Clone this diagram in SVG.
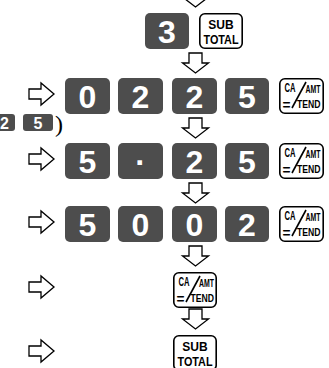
<svg xmlns="http://www.w3.org/2000/svg" xmlns:xlink="http://www.w3.org/1999/xlink" width="329" height="368" viewBox="0 0 329 368">
<style>
.dk{fill:#4d4d4d;}
.dg{fill:#fff;font-family:"Liberation Sans",Arial,sans-serif;font-weight:bold;font-size:32px;text-anchor:middle;}
.sdg{fill:#fff;font-family:"Liberation Sans",Arial,sans-serif;font-weight:bold;font-size:16px;text-anchor:middle;}
.wk{fill:#fff;stroke:#000;stroke-width:1.6;}
.kt{fill:#000;font-family:"Liberation Sans",Arial,sans-serif;font-weight:bold;}
.ar{fill:#fff;stroke:#000;stroke-width:1.3;stroke-linejoin:miter;}
.sl{stroke:#000;stroke-width:1.6;}
</style>
<defs>
<path id="da" d="M -6.5 0 H 6.5 V 10 H 13 L 0 20 L -13 10 H -6.5 Z"/>
<path id="ra" d="M 0 -5 H 12 V -11 L 25 0 L 12 11 V 5 H 0 Z"/>
</defs>

<g id="connectors">
<use xlink:href="#da" class="ar" x="195.5" y="-13"/>
<use xlink:href="#da" class="ar" x="195.5" y="53"/>
<use xlink:href="#da" class="ar" x="195.5" y="118"/>
<use xlink:href="#da" class="ar" x="195.5" y="183"/>
<use xlink:href="#da" class="ar" x="195.5" y="246"/>
<use xlink:href="#da" class="ar" x="195.5" y="309"/>
<use xlink:href="#ra" class="ar" x="29" y="94"/>
<use xlink:href="#ra" class="ar" x="29" y="159"/>
<use xlink:href="#ra" class="ar" x="29" y="222"/>
<use xlink:href="#ra" class="ar" x="29" y="287"/>
<use xlink:href="#ra" class="ar" x="29" y="351"/>
</g>

<!-- Row 1 -->
<g id="k1-3"><rect class="dk" x="145" y="13" width="44" height="36" rx="5"/><text class="dg" x="167" y="42.5">3</text></g>
<g id="k1-sub"><rect class="wk" x="199.8" y="13.8" width="42.4" height="34.4" rx="5"/>
<text class="kt" x="221" y="29" font-size="12" text-anchor="middle">SUB</text>
<text class="kt" x="221" y="44" font-size="12" text-anchor="middle" textLength="35" lengthAdjust="spacingAndGlyphs">TOTAL</text></g>

<!-- Small keys -->
<g id="sk-2"><rect class="dk" x="-15" y="114" width="30" height="17" rx="3"/><text class="sdg" x="4.5" y="128.5">2</text></g>
<g id="sk-5"><rect class="dk" x="23" y="114" width="30" height="17" rx="3"/><text class="sdg" x="38" y="128.5">5</text></g>
<g id="paren"><text x="55" y="132" font-family="Liberation Serif,serif" font-size="24" fill="#000">)</text></g>

<!-- Row 2 -->
<g id="k2-0"><rect class="dk" x="65" y="78" width="45" height="36" rx="5"/><text class="dg" x="87.5" y="107.5">0</text></g>
<g id="k2-2a"><rect class="dk" x="118" y="78" width="45" height="36" rx="5"/><text class="dg" x="140.5" y="107.5">2</text></g>
<g id="k2-2b"><rect class="dk" x="172" y="78" width="45" height="36" rx="5"/><text class="dg" x="194.5" y="107.5">2</text></g>
<g id="k2-5"><rect class="dk" x="225" y="78" width="44" height="36" rx="5"/><text class="dg" x="247" y="107.5">5</text></g>
<g id="k2-ca"><rect class="wk" x="279.8" y="78.8" width="43.4" height="34.4" rx="5"/>
<text class="kt" x="284.5" y="92" font-size="13" textLength="11" lengthAdjust="spacingAndGlyphs">CA</text>
<text class="kt" x="305.5" y="93" font-size="11.5" textLength="15" lengthAdjust="spacingAndGlyphs">AMT</text>
<line class="sl" x1="292" y1="108" x2="306" y2="82"/>
<text class="kt" x="282.5" y="110" font-size="15" textLength="8" lengthAdjust="spacingAndGlyphs">=</text>
<text class="kt" x="297" y="108" font-size="11.5" textLength="23.5" lengthAdjust="spacingAndGlyphs">TEND</text></g>

<!-- Row 3 -->
<g id="k3-5"><rect class="dk" x="65" y="143" width="45" height="36" rx="5"/><text class="dg" x="87.5" y="172.5">5</text></g>
<g id="k3-dot"><rect class="dk" x="118" y="143" width="45" height="36" rx="5"/><text class="dg" x="140.5" y="172.5">·</text></g>
<g id="k3-2"><rect class="dk" x="172" y="143" width="45" height="36" rx="5"/><text class="dg" x="194.5" y="172.5">2</text></g>
<g id="k3-5b"><rect class="dk" x="225" y="143" width="44" height="36" rx="5"/><text class="dg" x="247" y="172.5">5</text></g>
<g id="k3-ca"><rect class="wk" x="279.8" y="143.8" width="43.4" height="34.4" rx="5"/>
<text class="kt" x="284.5" y="157" font-size="13" textLength="11" lengthAdjust="spacingAndGlyphs">CA</text>
<text class="kt" x="305.5" y="158" font-size="11.5" textLength="15" lengthAdjust="spacingAndGlyphs">AMT</text>
<line class="sl" x1="292" y1="173" x2="306" y2="147"/>
<text class="kt" x="282.5" y="175" font-size="15" textLength="8" lengthAdjust="spacingAndGlyphs">=</text>
<text class="kt" x="297" y="173" font-size="11.5" textLength="23.5" lengthAdjust="spacingAndGlyphs">TEND</text></g>

<!-- Row 4 -->
<g id="k4-5"><rect class="dk" x="65" y="206" width="45" height="36" rx="5"/><text class="dg" x="87.5" y="235.5">5</text></g>
<g id="k4-0a"><rect class="dk" x="118" y="206" width="45" height="36" rx="5"/><text class="dg" x="140.5" y="235.5">0</text></g>
<g id="k4-0b"><rect class="dk" x="172" y="206" width="45" height="36" rx="5"/><text class="dg" x="194.5" y="235.5">0</text></g>
<g id="k4-2"><rect class="dk" x="225" y="206" width="44" height="36" rx="5"/><text class="dg" x="247" y="235.5">2</text></g>
<g id="k4-ca"><rect class="wk" x="279.8" y="206.8" width="43.4" height="34.4" rx="5"/>
<text class="kt" x="284.5" y="220" font-size="13" textLength="11" lengthAdjust="spacingAndGlyphs">CA</text>
<text class="kt" x="305.5" y="221" font-size="11.5" textLength="15" lengthAdjust="spacingAndGlyphs">AMT</text>
<line class="sl" x1="292" y1="236" x2="306" y2="210"/>
<text class="kt" x="282.5" y="238" font-size="15" textLength="8" lengthAdjust="spacingAndGlyphs">=</text>
<text class="kt" x="297" y="236" font-size="11.5" textLength="23.5" lengthAdjust="spacingAndGlyphs">TEND</text></g>

<!-- Row 5 -->
<g id="k5-ca"><rect class="wk" x="173.8" y="272.8" width="42.4" height="34.4" rx="5"/>
<text class="kt" x="178.5" y="286" font-size="13" textLength="11" lengthAdjust="spacingAndGlyphs">CA</text>
<text class="kt" x="199" y="287" font-size="11.5" textLength="15" lengthAdjust="spacingAndGlyphs">AMT</text>
<line class="sl" x1="186" y1="302" x2="200" y2="276"/>
<text class="kt" x="176.5" y="304" font-size="15" textLength="8" lengthAdjust="spacingAndGlyphs">=</text>
<text class="kt" x="190.5" y="302" font-size="11.5" textLength="23.5" lengthAdjust="spacingAndGlyphs">TEND</text></g>

<!-- Row 6 -->
<g id="k6-sub"><rect class="wk" x="173.8" y="335.8" width="42.4" height="34.4" rx="5"/>
<text class="kt" x="195" y="351" font-size="12" text-anchor="middle">SUB</text>
<text class="kt" x="195" y="366" font-size="12" text-anchor="middle" textLength="35" lengthAdjust="spacingAndGlyphs">TOTAL</text></g>
</svg>
